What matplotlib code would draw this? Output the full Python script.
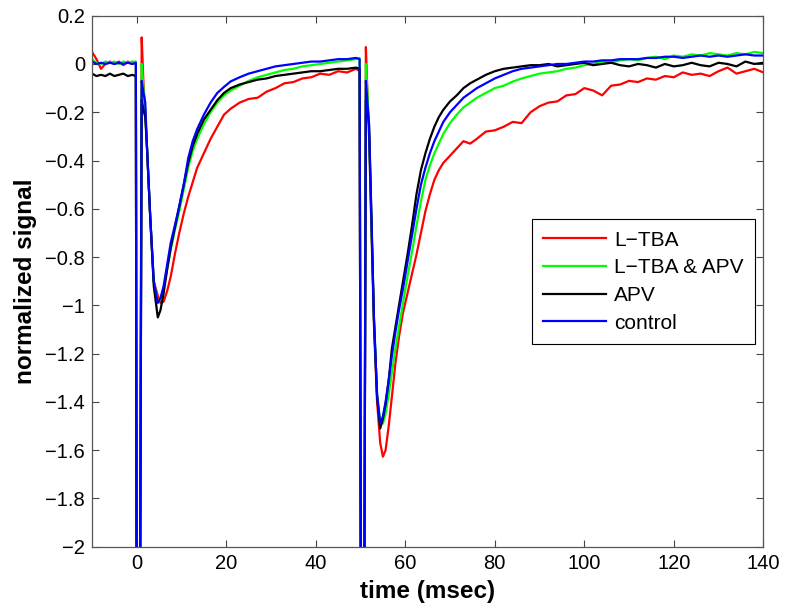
import matplotlib
matplotlib.use("Agg")
import matplotlib.pyplot as plt

# time axis (msec), shared by all four traces
t = [-10, -9, -8, -7, -6, -5, -4, -3, -2, -1, -0.2,
     0.0, 0.7,
     1.1, 1.5, 1.9, 2.3, 3.0, 3.8, 4.7,
     5.3, 6.0, 6.8, 7.6, 8.5, 9.5, 10.5, 11.5, 12.5, 13.5, 15, 16.5, 18, 19.5, 21,
     23, 25, 27, 29, 31, 33, 35, 37, 39, 41, 43, 45, 47, 49, 49.8,
     50.1, 50.8,
     51.2, 51.5, 51.9, 52.4, 53.0, 53.7, 54.4,
     55.0, 55.6, 56.3, 57.0, 57.8, 58.6, 59.5, 60.5, 61.5, 62.5, 63.5, 64.5, 65.5, 66.5,
     67.5, 68.5, 70, 71.5, 73, 74.5, 76, 78, 80, 82, 84, 86, 88, 90,
     92, 94, 96, 98, 100, 102, 104, 106, 108, 110, 112, 114, 116, 118, 120, 122, 124,
     126, 128, 130, 132, 134, 136, 138, 140]

ltba = [0.05, 0.02, -0.02, 0.0, 0.01, 0.0, 0.01, -0.005, 0.01, 0.0, 0.005,
        -2.5, -2.5,
        0.11, -0.08, -0.2, -0.35, -0.63, -0.9, -0.96,
        -0.99, -0.985, -0.94, -0.88, -0.79, -0.70, -0.62, -0.55, -0.49, -0.43, -0.37, -0.31,
        -0.26, -0.21, -0.185, -0.16, -0.145, -0.14, -0.115, -0.1, -0.08, -0.075, -0.06,
        -0.055, -0.04, -0.045, -0.03, -0.035, -0.02, -0.03,
        -2.5, -2.5,
        0.07, -0.1, -0.3, -0.65, -1.08, -1.40, -1.57,
        -1.627, -1.6, -1.5, -1.38, -1.24, -1.13, -1.03, -0.95, -0.87, -0.79, -0.7, -0.61,
        -0.54, -0.48, -0.44, -0.41, -0.38, -0.35, -0.32, -0.33, -0.31, -0.28, -0.275, -0.26,
        -0.24, -0.245, -0.2, -0.175,
        -0.16, -0.155, -0.13, -0.125, -0.1, -0.11, -0.13, -0.09, -0.085, -0.07, -0.075,
        -0.06, -0.065, -0.05, -0.055, -0.035, -0.045, -0.04, -0.05, -0.03, -0.015, -0.04,
        -0.03, -0.02, -0.035]

ltba_apv = [0.02, 0.005, 0.0, 0.01, 0.005, 0.01, 0.0, 0.01, 0.005, 0.01, 0.01,
            -2.5, -2.5,
            0.0, -0.1, -0.2, -0.35, -0.63, -0.9, -0.985,
            -0.975, -0.93, -0.85, -0.77, -0.69, -0.61, -0.52, -0.43, -0.36, -0.31, -0.25,
            -0.2, -0.16, -0.13, -0.11, -0.09, -0.07, -0.055, -0.045, -0.035, -0.025, -0.02,
            -0.01, -0.005, 0.0, 0.005, 0.01, 0.015, 0.02, 0.025,
            -2.5, -2.5,
            0.0, -0.1, -0.28, -0.65, -1.06, -1.37, -1.48,
            -1.49, -1.45, -1.37, -1.28, -1.18, -1.09, -0.99, -0.88, -0.78, -0.67, -0.57,
            -0.48, -0.42, -0.37, -0.33, -0.29, -0.245, -0.21, -0.18, -0.16, -0.14, -0.12,
            -0.1, -0.09, -0.073, -0.06, -0.05, -0.04,
            -0.035, -0.03, -0.02, -0.015, -0.005, 0.0, 0.01, 0.005, 0.015, 0.02, 0.015,
            0.025, 0.03, 0.02, 0.035, 0.03, 0.04, 0.035, 0.045, 0.04, 0.035, 0.045, 0.04,
            0.05, 0.045]

apv = [-0.04, -0.05, -0.045, -0.05, -0.04, -0.05, -0.045, -0.04, -0.05, -0.045, -0.05,
       -2.5, -2.5,
       -0.15, -0.19, -0.22, -0.35, -0.63, -0.92, -1.05,
       -1.02, -0.95, -0.85, -0.76, -0.68, -0.59, -0.5, -0.41, -0.34, -0.29, -0.23, -0.19,
       -0.15, -0.12, -0.1, -0.085, -0.075, -0.065, -0.06, -0.05, -0.045, -0.04, -0.035,
       -0.03, -0.03, -0.025, -0.02, -0.02, -0.015, -0.02,
       -2.5, -2.5,
       -0.15, -0.18, -0.25, -0.6, -1.06, -1.38, -1.51,
       -1.47, -1.41, -1.31, -1.18, -1.09, -1.0, -0.9, -0.79, -0.67, -0.54, -0.44, -0.37,
       -0.31, -0.26, -0.22, -0.19, -0.155, -0.13, -0.1, -0.08, -0.065, -0.045, -0.03,
       -0.02, -0.015, -0.01, -0.005, -0.005,
       0.0, -0.01, -0.005, 0.0, 0.005, -0.005, 0.0, 0.005, -0.005, -0.01, 0.0, -0.005,
       -0.015, 0.0, -0.01, -0.005, 0.005, -0.005, -0.01, 0.005, 0.0, -0.01, 0.01, 0.0,
       0.005]

control = [0.01, 0.0, 0.005, 0.0, 0.005, 0.0, 0.005, 0.0, 0.005, 0.0, 0.005,
           -2.5, -2.5,
           -0.07, -0.12, -0.16, -0.35, -0.63, -0.9, -0.99,
           -0.97, -0.92, -0.83, -0.74, -0.67, -0.59, -0.5, -0.39, -0.32, -0.27, -0.21,
           -0.16, -0.12, -0.095, -0.072, -0.055, -0.04, -0.03, -0.02, -0.01, -0.005, 0.0,
           0.005, 0.01, 0.01, 0.015, 0.02, 0.02, 0.025, 0.02,
           -2.5, -2.5,
           -0.07, -0.15, -0.25, -0.62, -1.05, -1.37, -1.49,
           -1.46, -1.40, -1.31, -1.21, -1.11, -1.02, -0.93, -0.82, -0.71, -0.6, -0.5,
           -0.43, -0.37, -0.32, -0.28, -0.24, -0.2, -0.17, -0.14, -0.12, -0.1, -0.08,
           -0.06, -0.045, -0.03, -0.02, -0.015, -0.01,
           -0.005, 0.0, 0.0, 0.005, 0.01, 0.01, 0.015, 0.015, 0.02, 0.02, 0.02, 0.025,
           0.025, 0.03, 0.03, 0.025, 0.03, 0.035, 0.03, 0.035, 0.03, 0.035, 0.04, 0.035,
           0.035]

labels = ["L\u2212TBA", "L\u2212TBA & APV", "APV", "control"]
colors = ["#ff0000", "#00ff00", "#000000", "#0000ff"]

plt.rcParams['font.family'] = ['Liberation Sans', 'DejaVu Sans']

fig = plt.figure(figsize=(7.85, 6.1), dpi=100)
ax = fig.add_axes([92 / 785, 1 - 546.7 / 610, 671.3 / 785, 531 / 610])

for y, c, lab in zip([ltba, ltba_apv, apv, control], colors, labels):
    ax.plot(t, y, color=c, lw=1.6, label=lab)

ax.set_xlim(-10, 140)
ax.set_ylim(-2, 0.2)
ax.set_xticks(range(0, 141, 20))
ax.set_yticks([0.2, 0, -0.2, -0.4, -0.6, -0.8, -1, -1.2, -1.4, -1.6, -1.8, -2])
ax.set_yticklabels(["0.2", "0", "\u22120.2", "\u22120.4", "\u22120.6", "\u22120.8", "\u22121",
                    "\u22121.2", "\u22121.4", "\u22121.6", "\u22121.8", "\u22122"])
ax.tick_params(direction='in', top=True, right=True, length=5, width=0.8,
               labelsize=14.5, color='#444444', pad=5)
for s in ax.spines.values():
    s.set_color('#555555')
    s.set_linewidth(0.9)

ax.set_xlabel("time (msec)", fontsize=17.5, fontweight='bold', labelpad=5)
ax.set_ylabel("normalized signal", fontsize=17.5, fontweight='bold', labelpad=6)

leg = ax.legend(loc='upper left', bbox_to_anchor=(0.655, 0.617), fontsize=15,
                fancybox=False, framealpha=1, edgecolor='black', handlelength=3.0,
                handletextpad=0.4, labelspacing=0.42, borderpad=0.55, borderaxespad=0)
leg.get_frame().set_linewidth(0.8)

fig.savefig("out.png", dpi=100)
